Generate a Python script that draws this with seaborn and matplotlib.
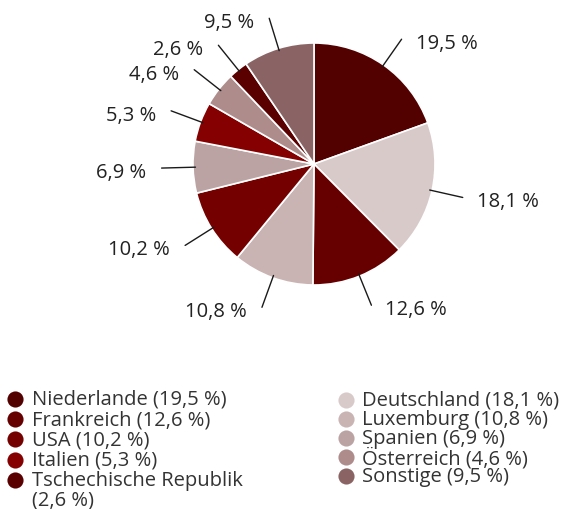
import numpy as np
import seaborn as sns
import matplotlib.pyplot as plt

countries = ['Niederlande', 'Deutschland', 'Frankreich', 'Luxemburg', 'USA',
             'Spanien', 'Italien', 'Österreich', 'Tschechische Republik', 'Sonstige']
shares = [19.5, 18.1, 12.6, 10.8, 10.2, 6.9, 5.3, 4.6, 2.6, 9.5]
colors = ['#520000', '#d9caca', '#660000', '#c9b3b3', '#750000',
          '#bca3a3', '#850000', '#ae8c8c', '#5a0000', '#8a6464']
# legend columns: dark shades left, light shades right
left_col = [0, 2, 4, 6, 8]
right_col = [1, 3, 5, 7, 9]

sns.set_theme(style="white")
plt.rcParams['font.family'] = ['Open Sans', 'DejaVu Sans']
label_color = '#222222'
text_color = '#333333'

def fmt(v):
    return f"{v:.1f}".replace('.', ',') + ' %'

W, H = 562, 510
fig = plt.figure(figsize=(W / 100, H / 100), dpi=100)
R = 121
cx, cy = 314, 165
ax = fig.add_axes([(cx - 1.9 * R) / W, (H - cy - 1.9 * R) / H, 3.8 * R / W, 3.8 * R / H])

wedges, _ = ax.pie(shares, colors=colors, startangle=90, counterclock=False,
                   wedgeprops=dict(edgecolor='white', linewidth=1.2))
ax.set_xlim(-1.9, 1.9)
ax.set_ylim(-1.9, 1.9)
ax.set_aspect('equal')
ax.axis('off')

px = 1 / R
for w, v in zip(wedges, shares):
    ang = np.deg2rad((w.theta1 + w.theta2) / 2)
    c, s = np.cos(ang), np.sin(ang)
    ax.plot([0.98 * c, 1.26 * c], [0.98 * s, 1.26 * s], color='#1a1a1a', lw=1)
    ha = 'left' if c > 0 else 'right'
    dx = 14 * px if c > 0 else -15 * px
    ax.text(1.26 * c + dx, 1.26 * s - 4 * px, fmt(v), ha=ha, va='center',
            fontsize=14.5, color=label_color)

# legend, drawn as markers + texts in pixel coordinates
lax = fig.add_axes([0, 0, 1, 1])
lax.set_xlim(0, W)
lax.set_ylim(H, 0)
lax.axis('off')

def legend_column(idx, x_marker, x_text, y0, step):
    for row, i in enumerate(idx):
        y = y0 + row * step
        lax.scatter([x_marker], [y], s=135, color=colors[i], linewidths=0)
        name = countries[i]
        if name == 'Tschechische Republik':
            label = f"{name}\n({fmt(shares[i])})"
            lax.text(x_text, y - 10, label, ha='left', va='top', fontsize=14.5,
                     color=text_color, linespacing=1.0)
        else:
            lax.text(x_text, y, f"{name} ({fmt(shares[i])})", ha='left', va='center',
                     fontsize=14.5, color=text_color)

legend_column(left_col, 15, 32, 400, 20.2)
legend_column(right_col, 346, 362, 401, 19.1)

fig.savefig('out.png', dpi=100)
